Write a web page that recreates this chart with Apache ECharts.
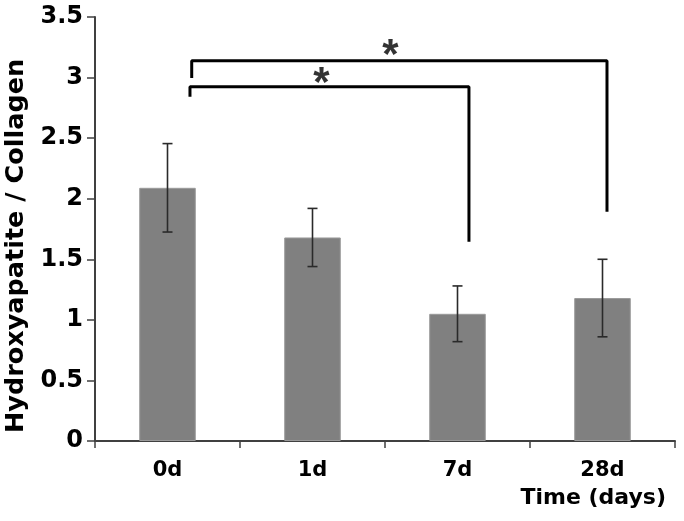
<!DOCTYPE html>
<html>
<head>
<meta charset="utf-8">
<script src="https://cdn.jsdelivr.net/npm/echarts@6/dist/echarts.min.js"></script>
<style>html,body{margin:0;padding:0;background:#fff}#c{width:684px;height:521px}</style>
</head>
<body>
<div id="c"></div>
<script>
var categories = ['0d', '1d', '7d', '28d'];
var means = [2.09, 1.68, 1.05, 1.18];
var errors = [0.365, 0.24, 0.23, 0.32];
var yTicks = [0, 0.5, 1, 1.5, 2, 2.5, 3, 3.5];
// significance brackets, x in category units (0..4), y in data units
var bracketLong = [[0.667, 2.997], [0.667, 3.139], [3.531, 3.139], [3.531, 1.893]];
var bracketShort = [[0.655, 2.842], [0.655, 2.925], [2.579, 2.925], [2.579, 1.645]];
var stars = [[2.038, 3.261], [1.562, 3.025]];

var FONT = 'DejaVu Sans';
var chart = echarts.init(document.getElementById('c'));
chart.setOption({
  animation: false,
  backgroundColor: '#fff',
  title: {
    text: 'Time (days)', right: 18, top: 487, padding: 0,
    textStyle: {fontFamily: FONT, fontWeight: 'bold', fontSize: 22, color: '#000'}
  },
  grid: {left: 95, right: 9, top: 17, bottom: 80, containLabel: false, outerBoundsMode: 'none'},
  xAxis: [{
    type: 'category', data: categories,
    axisLine: {lineStyle: {color: '#404040', width: 2}},
    axisTick: {show: true, length: 7, lineStyle: {color: '#404040', width: 1.5}},
    axisLabel: {fontFamily: FONT, fontWeight: 'bold', fontSize: 21, color: '#000', margin: 19}
  }, {
    type: 'value', min: 0, max: 4, show: false
  }],
  yAxis: {
    type: 'value', min: 0, max: 3.5, interval: 0.5,
    name: 'Hydroxyapatite / Collagen', nameLocation: 'middle', nameGap: 64,
    nameTextStyle: {fontFamily: FONT, fontWeight: 'bold', fontSize: 25.5, color: '#000', padding: [0, 34, 0, 0]},
    splitLine: {show: false},
    axisLine: {show: true, lineStyle: {color: '#404040', width: 2}},
    axisTick: {show: true, length: 8, lineStyle: {color: '#404040', width: 1.5}},
    axisLabel: {fontFamily: FONT, fontWeight: 'bold', fontSize: 24, color: '#000', margin: 12,
      formatter: function (v) { return yTicks.indexOf(v) >= 0 ? String(v) : ''; }}
  },
  series: [{
    type: 'bar', data: means, barWidth: '39%',
    itemStyle: {color: '#808080', borderColor: '#9a9a9a', borderWidth: 1}
  }, {
    type: 'custom', xAxisIndex: 0,
    data: means.map(function (m, i) { return [i, m - errors[i], m + errors[i]]; }),
    renderItem: function (params, api) {
      var lo = api.coord([api.value(0), api.value(1)]);
      var hi = api.coord([api.value(0), api.value(2)]);
      var w = 5;
      var st = {stroke: '#2a2a2a', lineWidth: 1.6};
      return {type: 'group', children: [
        {type: 'line', shape: {x1: hi[0], y1: hi[1], x2: lo[0], y2: lo[1]}, style: st},
        {type: 'line', shape: {x1: hi[0] - w, y1: hi[1], x2: hi[0] + w, y2: hi[1]}, style: st},
        {type: 'line', shape: {x1: lo[0] - w, y1: lo[1], x2: lo[0] + w, y2: lo[1]}, style: st}
      ]};
    },
    z: 5
  }, {
    type: 'line', xAxisIndex: 1, data: bracketLong, symbol: 'none',
    lineStyle: {color: '#000', width: 3}, z: 6
  }, {
    type: 'line', xAxisIndex: 1, data: bracketShort, symbol: 'none',
    lineStyle: {color: '#000', width: 3}, z: 6
  }, {
    type: 'scatter', xAxisIndex: 1, data: stars, symbolSize: 1,
    itemStyle: {color: 'transparent'},
    label: {show: true, position: 'inside', formatter: '*', fontFamily: 'Liberation Sans', fontWeight: 'bold',
      fontSize: 42, color: '#000', offset: [0, 10]},
    z: 7
  }]
});
</script>
</body>
</html>
